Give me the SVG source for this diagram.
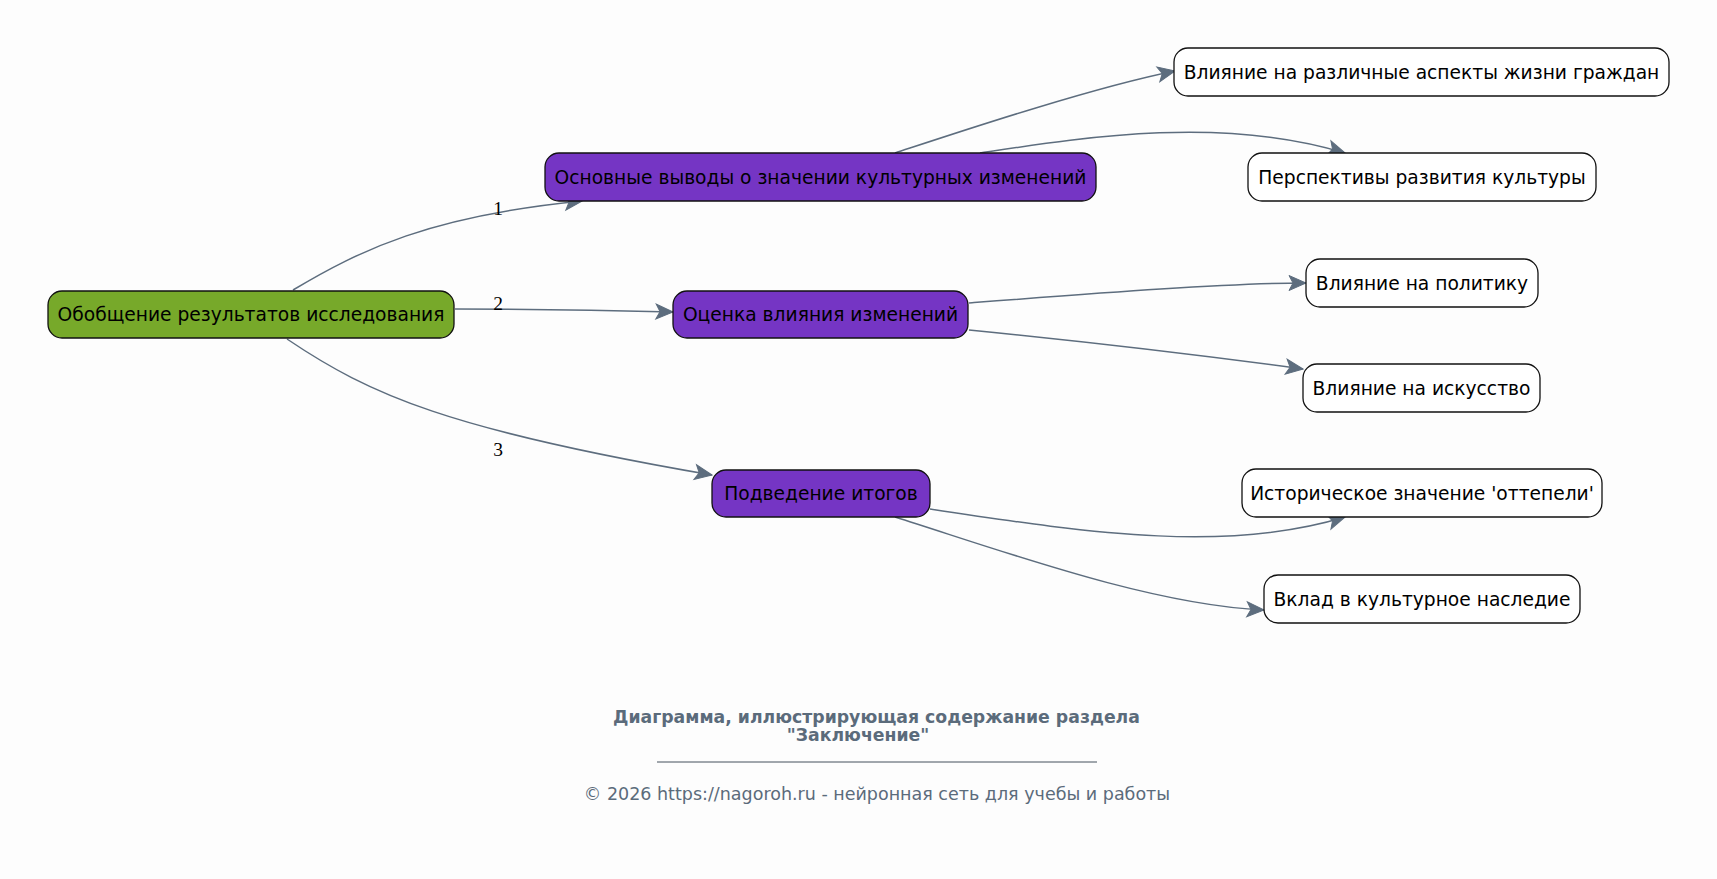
<svg xmlns="http://www.w3.org/2000/svg" width="1717" height="879" viewBox="0 0 1717 879">
<style>
.bg{fill:#fdfdfd}
.n rect{stroke:#111;stroke-width:1.3}
.root rect{fill:#77a92a}
.mid rect{fill:#7535c4}
.leaf rect{fill:#ffffff}
.n text{font-family:"DejaVu Sans",sans-serif;font-size:18.67px;fill:#000;text-anchor:middle}
.e path{fill:none;stroke:#5d6d7e;stroke-width:1.5;marker-end:url(#arr)}
.el{font-family:"Liberation Serif","Times New Roman",serif;font-size:19.5px;fill:#000;text-anchor:middle}
.t{font-family:"DejaVu Sans",sans-serif;fill:#5b6b7b;text-anchor:middle}
</style>
<defs>
<marker id="arr" markerUnits="userSpaceOnUse" orient="auto" markerWidth="20" markerHeight="20" refX="0" refY="0" viewBox="-18 -9 20 18" overflow="visible">
<path d="M0,0 L-17,-7.5 L-13,0 L-17,7.5 Z" fill="#5d6d7e" stroke="#5d6d7e" stroke-width="1"/>
</marker>
</defs>
<rect class="bg" x="0" y="0" width="1717" height="879"/>
<g id="connectors" class="e">
<path d="M293,290 C360,250 430,216 582,201"/>
<path d="M455,309 C530,309 600,310 673,312"/>
<path d="M287,339 C370,395 450,430 712,475"/>
<path d="M895,153 C950,135 1090,88 1175,71"/>
<path d="M980,153 C1080,138 1220,115 1345,153"/>
<path d="M969,303 C1100,293 1230,283 1306,283"/>
<path d="M969,330 C1100,343 1200,355 1303,369"/>
<path d="M930,509 C1100,535 1230,552 1345,517"/>
<path d="M895,517 C1000,550 1150,605 1264,610"/>
</g>
<g id="edge-labels">
<text class="el" x="498" y="215">1</text>
<text class="el" x="498" y="310">2</text>
<text class="el" x="498" y="456">3</text>
</g>
<g id="n-root" class="n root"><rect x="48" y="291" width="406" height="47" rx="14"/><text x="251" y="321">Обобщение результатов исследования</text></g>
<g id="n-a" class="n mid"><rect x="545" y="153" width="551" height="48" rx="14"/><text x="820.5" y="184">Основные выводы о значении культурных изменений</text></g>
<g id="n-b" class="n mid"><rect x="673" y="291" width="295" height="47" rx="14"/><text x="820.5" y="321">Оценка влияния изменений</text></g>
<g id="n-c" class="n mid"><rect x="712" y="470" width="218" height="47" rx="14"/><text x="821" y="500">Подведение итогов</text></g>
<g id="n-l1" class="n leaf"><rect x="1174" y="48" width="495" height="48" rx="14"/><text x="1421.5" y="79">Влияние на различные аспекты жизни граждан</text></g>
<g id="n-l2" class="n leaf"><rect x="1248" y="153" width="348" height="48" rx="14"/><text x="1422" y="184">Перспективы развития культуры</text></g>
<g id="n-l3" class="n leaf"><rect x="1306" y="259" width="232" height="48" rx="14"/><text x="1422" y="290">Влияние на политику</text></g>
<g id="n-l4" class="n leaf"><rect x="1303" y="364" width="237" height="48" rx="14"/><text x="1421.5" y="395">Влияние на искусство</text></g>
<g id="n-l5" class="n leaf"><rect x="1242" y="469" width="360" height="48" rx="14"/><text x="1422" y="500">Историческое значение 'оттепели'</text></g>
<g id="n-l6" class="n leaf"><rect x="1264" y="575" width="316" height="48" rx="14"/><text x="1422" y="606">Вклад в культурное наследие</text></g>
<g id="footer">
<text class="t" x="876.5" y="723" font-size="17.3" font-weight="bold">Диаграмма, иллюстрирующая содержание раздела</text>
<text class="t" x="858" y="741" font-size="17.3" font-weight="bold">"Заключение"</text>
<line x1="657" y1="762" x2="1097" y2="762" stroke="#44505c" stroke-width="1"/>
<text class="t" x="877" y="800" font-size="17.5">© 2026 https://nagoroh.ru - нейронная сеть для учебы и работы</text>
</g>
</svg>
